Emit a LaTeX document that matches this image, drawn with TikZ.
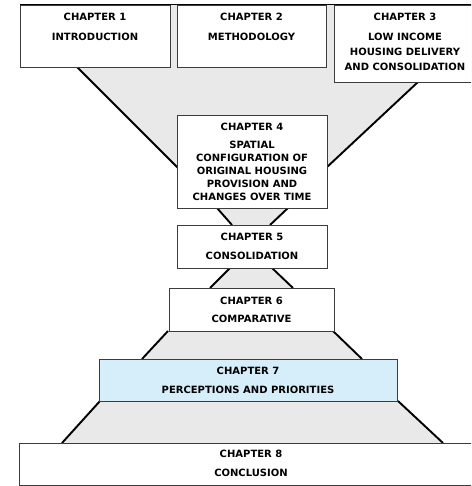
\documentclass[tikz,border=0pt]{standalone}
\usepackage{fontspec}
\setmainfont{DejaVu Sans}
\definecolor{funnelgray}{RGB}{233,233,233}
\definecolor{boxblue}{RGB}{214,238,250}
\definecolor{boxline}{RGB}{60,60,60}
\tikzset{
  chbox/.style={draw=boxline, line width=0.9pt, fill=white, rectangle, inner sep=0pt},
  slant/.style={line width=1.9pt, black},
  txt/.style={font=\bfseries\fontsize{10}{12}\selectfont, inner sep=0pt, text height=7.3pt, text depth=0pt, anchor=center}
}
\newcommand{\chbx}[6]{% name, x1,y1,x2,y2, extra
  \node[chbox, #6, minimum width=#4-#2, minimum height=#5-#3, anchor=north west] (#1) at (#2,#3) {};}
\begin{document}
\begin{tikzpicture}[x=1pt,y=-1pt]
\useasboundingbox (0,0) rectangle (471,486);
\begin{scope}
\clip (0,0) rectangle (471,486);
% gray funnel fill
\fill[funnelgray] (20,5) -- (476,5) -- (476,82) -- (418,82) -- (327,167) -- (327,208) -- (288,208) -- (270,225)
  -- (272,268) -- (293,288) -- (333,331) -- (362,359) -- (398,401) -- (443,443)
  -- (62,443) -- (100,401) -- (142,359) -- (168,331) -- (210,288) -- (230,268)
  -- (232,225) -- (217,208) -- (177,208) -- (177,168) -- (77,67) -- (20,67) -- cycle;
% slanted lines
\draw[slant] (20,4.5) -- (476,4.5);
\draw[slant] (77,67) -- (178,168);
\draw[slant] (418,82) -- (326,168);
\draw[slant] (217,208) -- (232,225);
\draw[slant] (288,208) -- (270,225);
\draw[slant] (230,268) -- (210,288);
\draw[slant] (272,268) -- (293,288);
\draw[slant] (168,331) -- (142,359);
\draw[slant] (333,331) -- (362,359);
\draw[slant] (100,401) -- (62,443);
\draw[slant] (398,401) -- (443,443);
% boxes
\chbx{c1}{20}{5}{170}{67}{}
\chbx{c2}{177}{5}{326}{67}{}
\chbx{c3}{334}{5}{476}{82}{}
\chbx{c4}{177}{115}{327}{208}{}
\chbx{c5}{177}{225}{327}{268}{}
\chbx{c6}{169}{288}{334}{331}{}
\chbx{c7}{99}{359}{397}{401}{fill=boxblue}
\chbx{c8}{19}{443}{483}{485}{}
% texts
\node[txt] (t1a) at (95,17) {CHAPTER 1};
\node[txt] (t1b) at (95,37) {INTRODUCTION};
\node[txt] (t2a) at (251.5,17) {CHAPTER 2};
\node[txt] (t2b) at (251.5,37) {METHODOLOGY};
\node[txt] (t3a) at (405,17) {CHAPTER 3};
\node[txt] (t3b) at (405,37) {LOW INCOME};
\node[txt] (t3c) at (405,52) {HOUSING DELIVERY};
\node[txt] (t3d) at (405,67) {AND CONSOLIDATION};
\node[txt] (t4a) at (252,127) {CHAPTER 4};
\node[txt] (t4b) at (252,145) {SPATIAL};
\node[txt] (t4c) at (252,158) {CONFIGURATION OF};
\node[txt] (t4d) at (252,171) {ORIGINAL HOUSING};
\node[txt] (t4e) at (252,184) {PROVISION AND};
\node[txt] (t4f) at (252,197) {CHANGES OVER TIME};
\node[txt] (t5a) at (252,237) {CHAPTER 5};
\node[txt] (t5b) at (252,256) {CONSOLIDATION};
\node[txt] (t6a) at (251.5,301) {CHAPTER 6};
\node[txt] (t6b) at (251.5,319) {COMPARATIVE};
\node[txt] (t7a) at (248,371) {CHAPTER 7};
\node[txt] (t7b) at (248,390) {PERCEPTIONS AND PRIORITIES};
\node[txt] (t8a) at (251,454) {CHAPTER 8};
\node[txt] (t8b) at (251,473) {CONCLUSION};
\end{scope}
\end{tikzpicture}
\end{document}
